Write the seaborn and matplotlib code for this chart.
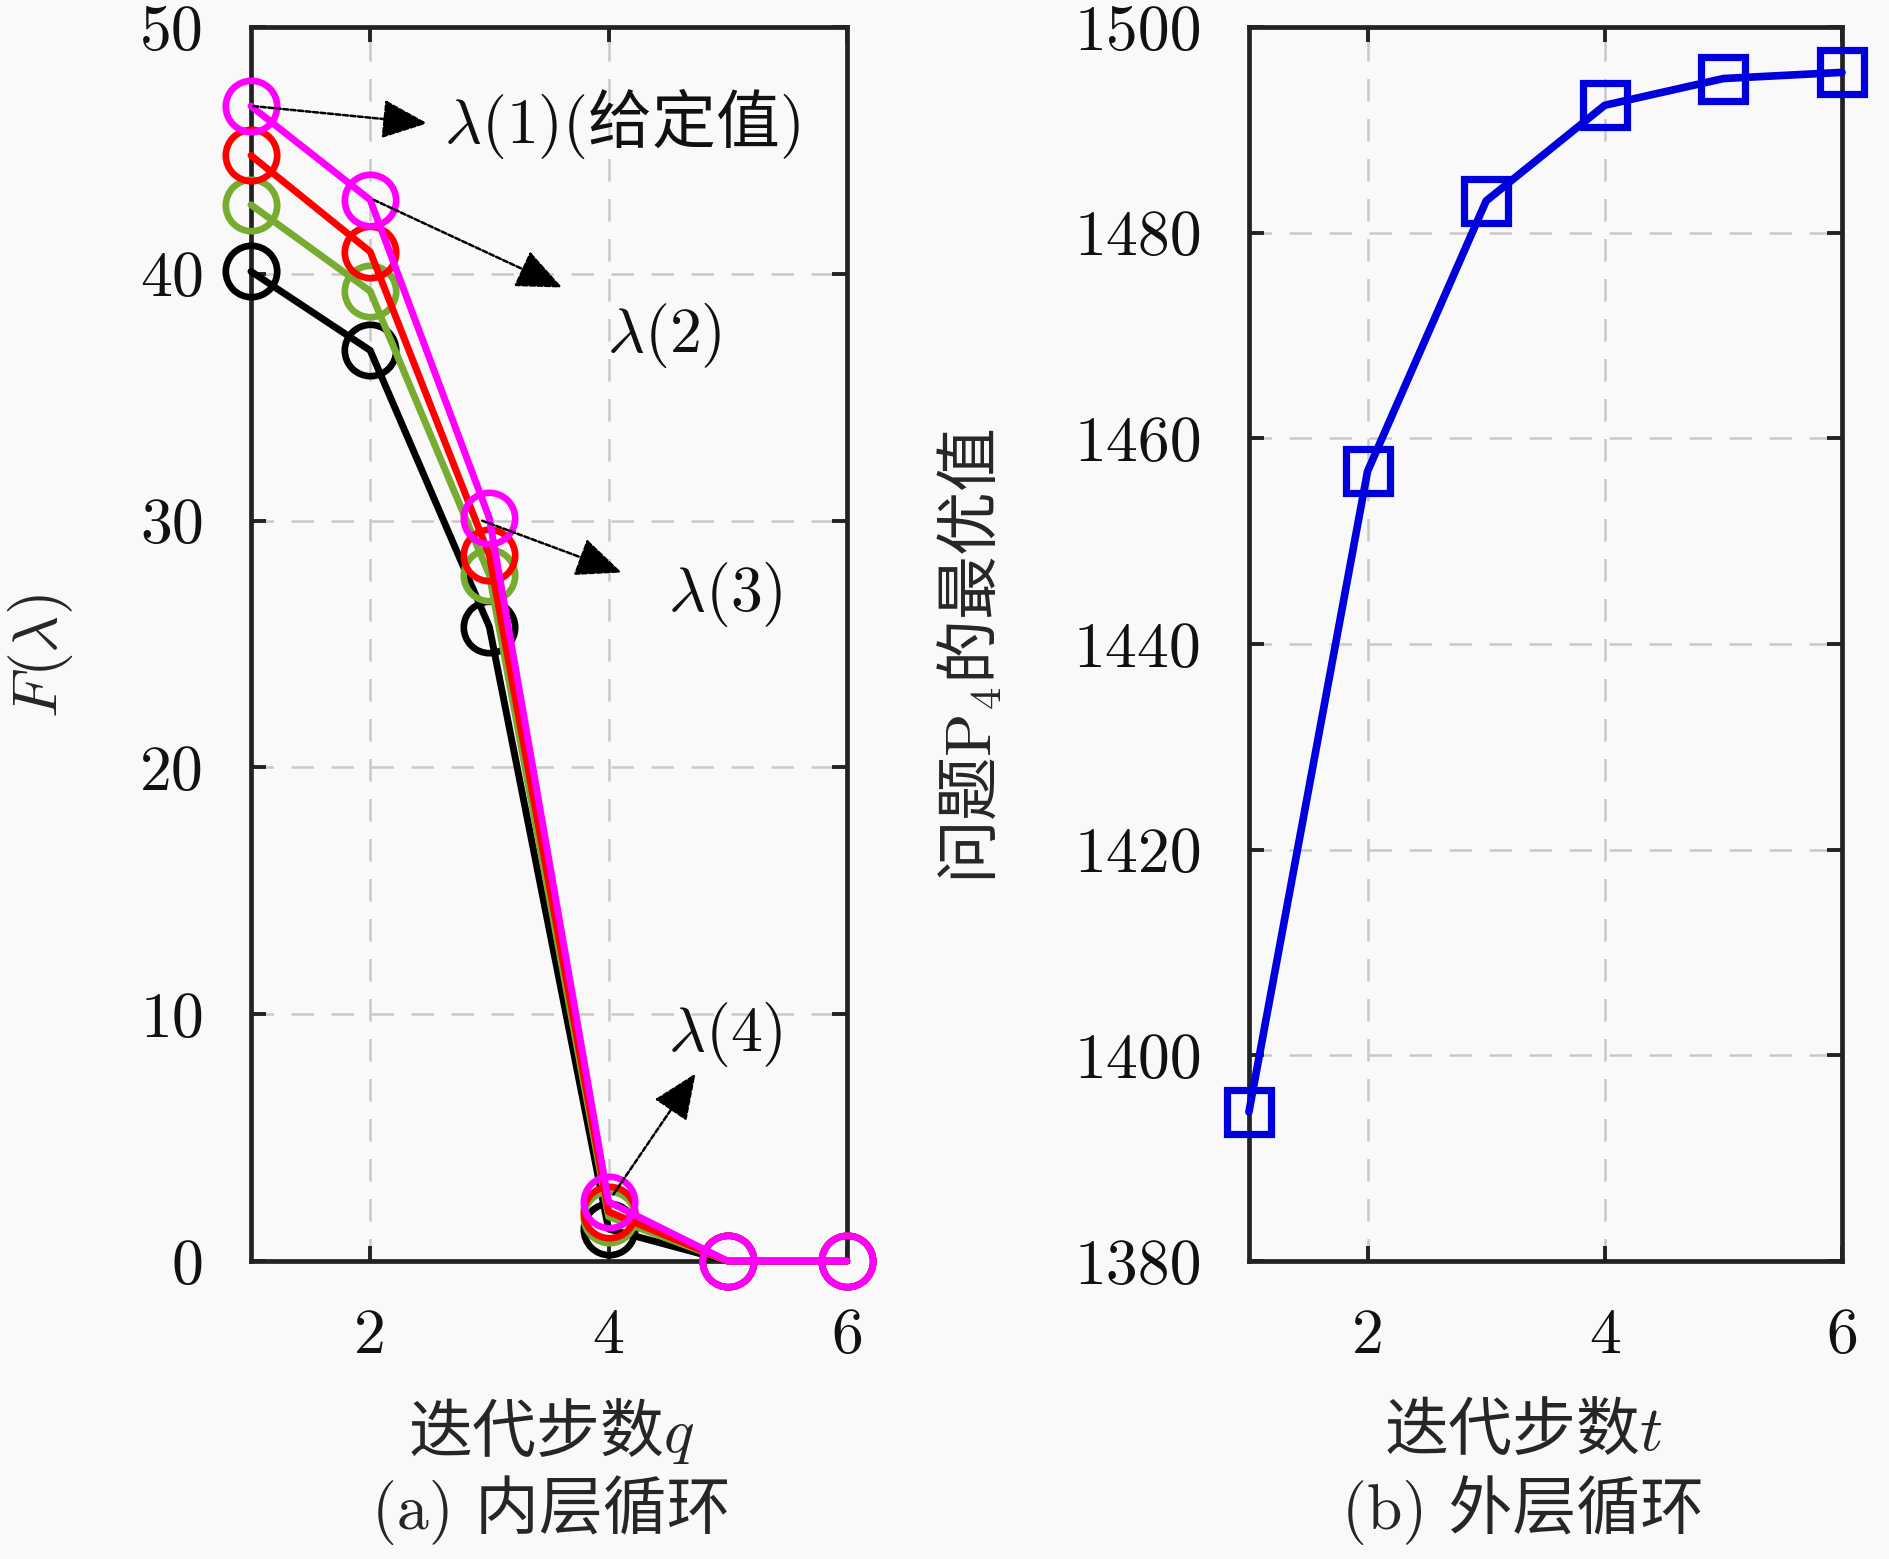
import matplotlib
matplotlib.use("Agg")
import matplotlib.pyplot as plt
import seaborn as sns
import pandas as pd

# ---------------- data ----------------
q_steps = [1, 2, 3, 4, 5, 6]
F_black = [40.1, 36.9, 25.7, 1.3, 0.0, 0.0]
F_green = [42.8, 39.3, 27.8, 1.8, 0.0, 0.0]
F_red = [44.8, 40.9, 28.6, 2.0, 0.0, 0.0]
F_magenta = [46.8, 43.0, 30.1, 2.4, 0.0, 0.0]

t_steps = [1, 2, 3, 4, 5, 6]
P4_opt = [1394.5, 1456.8, 1483.1, 1492.4, 1495.0, 1495.6]

x_ticks = [2, 4, 6]
y_ticks_left = [0, 10, 20, 30, 40, 50]
y_ticks_right = [1380, 1400, 1420, 1440, 1460, 1480, 1500]

# annotation labels, text anchors and arrows (tail -> head) in data coords
ann_labels = [r"$\lambda(1)($给定值$)$", r"$\lambda(2)$", r"$\lambda(3)$", r"$\lambda(4)$"]
ann_text_xy = [(2.62, 46.1), (3.99, 37.5), (4.5, 27.0), (4.5, 9.2)]
ann_tail = [(1.02, 46.8), (2.03, 43.0), (2.94, 30.0), (4.04, 2.7)]
ann_head = [(2.48, 46.1), (3.61, 39.45), (4.11, 27.9), (4.73, 7.6)]

# ---------------- style ----------------
sns.set_theme(style="ticks")
BG = "#f9f9f9"
plt.rcParams["font.family"] = ["cmr10", "Noto Sans CJK SC", "DejaVu Sans"]
plt.rcParams["mathtext.fontset"] = "cm"
plt.rcParams["axes.formatter.use_mathtext"] = True
plt.rcParams["axes.unicode_minus"] = False

FS = 46
CJK = ["Noto Sans CJK SC", "DejaVu Sans"]

fig = plt.figure(figsize=(18.9, 15.59), dpi=100, facecolor=BG)
ax1 = fig.add_axes([0.1328, 0.1911, 0.3153, 0.7915])
ax2 = fig.add_axes([0.6608, 0.1911, 0.3138, 0.7915])


def style_axes(ax, xt, yt, xlim, ylim):
    ax.set_facecolor(BG)
    ax.set_xlim(*xlim)
    ax.set_ylim(*ylim)
    ax.set_xticks(xt)
    ax.set_xticklabels([str(v) for v in xt])
    ax.set_yticks(yt)
    ax.set_yticklabels([str(v) for v in yt])
    ax.grid(True, color="#c9c9c9", linestyle=(0, (9, 7)), linewidth=1.8)
    ax.set_axisbelow(True)
    for s in ax.spines.values():
        s.set_visible(True)
        s.set_linewidth(3.4)
        s.set_color("#222222")
        s.set_zorder(5)
    ax.tick_params(axis="both", which="both", direction="in", length=11, width=2.8,
                   top=True, right=True, labelsize=FS, pad=34, colors="#222222",
                   labelcolor="#111111")


style_axes(ax1, x_ticks, y_ticks_left, (1, 6), (0, 50))
style_axes(ax2, x_ticks, y_ticks_right, (1, 6), (1380, 1500))

# ---------------- left panel ----------------
series = [(F_black, "black"), (F_green, "#77ac30"), (F_red, "#ff0000"), (F_magenta, "#ff00ff")]
for vals, col in series:
    df = pd.DataFrame({"q": q_steps, "F": vals})
    sns.lineplot(data=df, x="q", y="F", ax=ax1, color=col, linewidth=5.0,
                 marker="o", markersize=37, markerfacecolor="none",
                 markeredgecolor=col, markeredgewidth=4.8, clip_on=False,
                 estimator=None, sort=False, zorder=6)

for lab, txy, tail, head in zip(ann_labels, ann_text_xy, ann_tail, ann_head):
    ax1.annotate("", xy=head, xytext=tail,
                 arrowprops=dict(arrowstyle="-|>,head_length=0.65,head_width=0.28",
                                 mutation_scale=44, color="black", lw=1.8,
                                 linestyle=(0, (2, 1)), shrinkA=0, shrinkB=0),
                 zorder=7)
    ax1.text(txy[0], txy[1], lab, fontsize=FS, ha="left", va="center", color="#111111",
             family=CJK, zorder=8)

ax1.set_xlabel("")
ax1.set_ylabel(r"$F(\lambda)$", fontsize=FS)
ax1.yaxis.set_label_coords(-0.295, 0.49)

# ---------------- right panel ----------------
df2 = pd.DataFrame({"t": t_steps, "v": P4_opt})
sns.lineplot(data=df2, x="t", y="v", ax=ax2, color="#0000dd", linewidth=5.5,
             marker="s", markersize=32, markerfacecolor="none",
             markeredgecolor="#0000dd", markeredgewidth=5.2, clip_on=False,
             estimator=None, sort=False, zorder=6)
ax2.set_xlabel("")
ax2.set_ylabel(r"问题$\mathrm{P}_4$的最优值", fontsize=FS, family=CJK)
ax2.yaxis.set_label_coords(-0.41, 0.49)

# ---------------- captions ----------------
fig.text(551 / 1890, 1 - 1432 / 1559, r"迭代步数$q$", fontsize=FS, ha="center", va="center",
         family=CJK)
fig.text(551 / 1890, 1 - 1510 / 1559, "(a) 内层循环", fontsize=FS, ha="center", va="center")
fig.text(1523 / 1890, 1 - 1432 / 1559, r"迭代步数$t$", fontsize=FS, ha="center", va="center",
         family=CJK)
fig.text(1523 / 1890, 1 - 1510 / 1559, "(b) 外层循环", fontsize=FS, ha="center", va="center")

fig.savefig("out.png", dpi=100, facecolor=BG)
